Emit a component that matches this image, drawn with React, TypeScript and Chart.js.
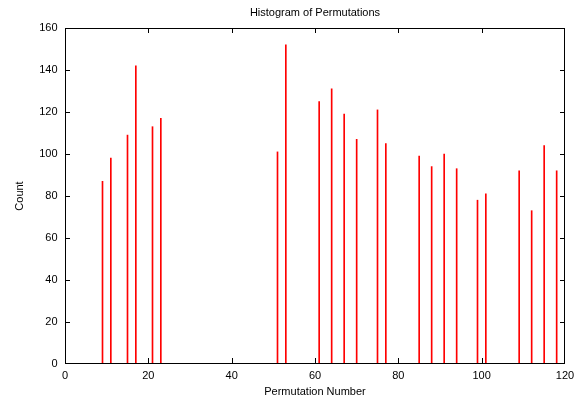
import React, { useEffect, useRef } from "react";
import { Chart, registerables } from "chart.js";

Chart.register(...registerables);

const permutationNumbers = [9, 11, 15, 17, 21, 23, 51, 53, 61, 64, 67, 70, 75, 77, 85, 88, 91, 94, 99, 101, 109, 112, 115, 118];
const counts = [87, 98, 109, 142, 113, 117, 101, 152, 125, 131, 119, 107, 121, 105, 99, 94, 100, 93, 78, 81, 92, 73, 104, 92];
const xTickRange = [0, 120];
const yTickRange = [0, 160];
const tickStep = 20;

const FONT = "'Liberation Sans', Arial, Helvetica, sans-serif";

const framePlugin = {
  id: "gnuplotFrame",
  afterDraw(chart: any) {
    const ctx = chart.ctx as CanvasRenderingContext2D;
    const area = chart.chartArea;
    const xs = chart.scales.x;
    const ys = chart.scales.y;
    const L = Math.round(area.left);
    const R = Math.round(area.right) - 1;
    const T = Math.round(area.top);
    const B = Math.round(area.bottom) - 1;
    const len = 5;
    ctx.save();
    ctx.setLineDash([]);
    ctx.globalAlpha = 1;
    ctx.fillStyle = "#000";
    // frame
    ctx.fillRect(L, T, R - L + 1, 1);
    ctx.fillRect(L, B, R - L + 1, 1);
    ctx.fillRect(L, T, 1, B - T + 1);
    ctx.fillRect(R, T, 1, B - T + 1);
    // inward ticks
    for (const t of xs.ticks) {
      const px = Math.round(xs.getPixelForValue(t.value));
      const x = Math.min(Math.max(px, L), R);
      ctx.fillRect(x, B - len, 1, len);
      ctx.fillRect(x, T, 1, len);
    }
    for (const t of ys.ticks) {
      const py = Math.round(ys.getPixelForValue(t.value));
      const y = Math.min(Math.max(py, T), B);
      ctx.fillRect(L, y, len, 1);
      ctx.fillRect(R - len + 1, y, len, 1);
    }
    ctx.restore();
  },
};

export default function App() {
  const ref = useRef<HTMLCanvasElement>(null);
  useEffect(() => {
    if (!ref.current) return;
    const chart = new Chart(ref.current, {
      type: "bar",
      data: {
        datasets: [
          {
            label: "Count",
            data: permutationNumbers.map((x, i) => ({ x, y: counts[i] })),
            backgroundColor: "#ff0000",
            borderWidth: 0,
            barThickness: 1,
          },
        ],
      },
      options: {
        responsive: false,
        animation: false,
        devicePixelRatio: 1,
        layout: { padding: { left: 0, right: 16, top: 0, bottom: 0 } },
        plugins: {
          legend: { display: false },
          tooltip: { enabled: false },
          title: {
            display: true,
            fullSize: false,
            text: "Histogram of Permutations",
            color: "#000",
            font: { family: FONT, size: 11, weight: "normal" },
            padding: { top: 6, bottom: 8.8 },
          },
        },
        scales: {
          x: {
            type: "linear",
            offset: false,
            min: xTickRange[0],
            max: xTickRange[1],
            grid: { display: false, drawTicks: false },
            border: { display: false },
            ticks: {
              stepSize: tickStep,
              color: "#000",
              padding: 5,
              maxRotation: 0,
              font: { family: FONT, size: 11 },
            },
            title: {
              display: true,
              text: "Permutation Number",
              color: "#000",
              font: { family: FONT, size: 11 },
              padding: { top: 0, bottom: 2.4 },
            },
            afterFit: (s: any) => {
              s.height = 37;
            },
          },
          y: {
            min: yTickRange[0],
            max: yTickRange[1],
            grid: { display: false, drawTicks: false },
            border: { display: false },
            ticks: {
              stepSize: tickStep,
              color: "#000",
              padding: 7.5,
              font: { family: FONT, size: 11 },
            },
            title: {
              display: true,
              text: "Count",
              color: "#000",
              font: { family: FONT, size: 11 },
              padding: { top: 13.4, bottom: 0 },
            },
            afterFit: (s: any) => {
              s.width = 65;
            },
          },
        },
      },
      plugins: [framePlugin],
    });
    return () => chart.destroy();
  }, []);
  return (
    <div style={{ position: "absolute", left: 0, top: 0, width: 581, height: 401, background: "#fff" }}>
      <canvas ref={ref} width={581} height={401} />
    </div>
  );
}
